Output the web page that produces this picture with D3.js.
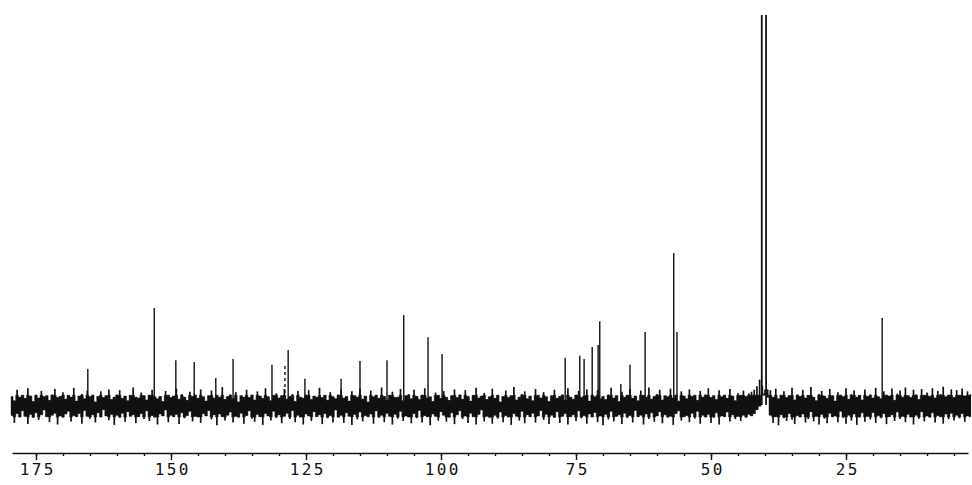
<!DOCTYPE html>
<html>
<head>
<meta charset="utf-8">
<script src="https://cdn.jsdelivr.net/npm/d3@7"></script>
<style>
  html, body { margin: 0; padding: 0; background: #fff; }
  svg { display: block; }
</style>
</head>
<body>
<script>
// chemical shifts (ppm) and heights of the resolved lines
const peakShifts = [165.4, 153.1, 149.1, 145.7, 141.7, 138.5, 131.3, 128.9, 128.3, 125.2,
    118.5, 115.0, 110.0, 106.9, 102.4, 99.8, 77.0, 74.3, 73.5, 72.0,
    70.9, 70.6, 66.7, 65.0, 62.2, 56.9, 56.3, 40.6, 39.8, 18.3];
const peakHeights = [9.2, 24.9, 11.5, 11.0, 6.9, 11.8, 10.3, 10.3, 14.1, 6.7,
    6.7, 11.3, 11.5, 23.1, 17.4, 13.1, 12.1, 12.6, 11.8, 14.9,
    15.4, 21.5, 5.4, 10.3, 18.7, 39.0, 18.7, 200, 200, 22.3];

// baseline noise: upper / lower envelope, one value every 0.5 ppm from 179.5 ppm
const noiseStart = 179.5;
const noiseStep = 0.5;
const noiseHigh = [
    2.2, 1.1, 3.9, 2.0, 2.5, 1.7, 4.3, 2.3, 0.9, 2.6,
    1.8, 3.6, 2.1, 2.4, 1.2, 2.7, 4.1, 1.9, 2.2, 3.3,
    1.5, 2.5, 2.0, 4.4, 1.0, 2.3, 2.8, 1.6, 3.7, 2.1,
    2.6, 0.8, 2.2, 3.5, 1.9, 2.4, 4.0, 1.4, 2.0, 2.7,
    3.8, 1.7, 2.3, 1.1, 2.5, 4.5, 2.0, 1.8, 3.2, 2.4,
    1.3, 2.6, 3.9, 2.1, 1.6, 2.2, 0.9, 3.6, 2.5, 1.9,
    2.3, 4.2, 1.5, 2.8, 2.0, 1.2, 3.4, 2.2, 2.6, 1.7,
    4.0, 2.1, 1.0, 2.4, 3.7, 1.8, 2.5, 2.0, 4.6, 1.4,
    2.2, 2.7, 1.6, 3.3, 0.8, 2.4, 2.0, 3.9, 1.9, 2.6,
    1.3, 3.5, 2.3, 1.7, 4.3, 2.1, 1.1, 2.5, 3.0, 1.8,
    2.4, 4.1, 1.5, 2.2, 2.8, 0.9, 3.6, 2.0, 1.7, 2.6,
    3.8, 1.4, 2.3, 2.0, 4.4, 1.9, 2.5, 1.2, 3.3, 2.1,
    1.6, 2.7, 4.0, 1.8, 2.2, 1.0, 3.5, 2.4, 2.0, 4.2,
    1.5, 2.3, 0.8, 3.7, 2.1, 2.6, 1.7, 4.5, 2.2, 1.3,
    2.5, 3.4, 1.9, 2.0, 4.1, 1.1, 2.4, 2.8, 1.6, 3.9,
    2.2, 1.4, 2.6, 4.3, 1.8, 2.1, 0.9, 3.2, 2.5, 1.7,
    3.6, 2.0, 1.2, 2.4, 4.0, 1.9, 2.7, 1.5, 3.8, 2.2,
    1.0, 2.5, 4.4, 1.8, 2.3, 3.1, 1.4, 2.1, 4.2, 1.7,
    2.6, 0.8, 2.2, 3.7, 1.9, 2.4, 4.6, 1.3, 2.0, 2.8,
    3.5, 1.6, 2.3, 1.1, 4.1, 2.5, 1.8, 3.3, 2.1, 0.9,
    2.4, 3.9, 1.7, 2.2, 2.7, 1.2, 4.3, 2.0, 1.5, 2.6,
    3.6, 1.9, 2.3, 4.0, 1.0, 2.5, 2.1, 3.8, 1.6, 2.2,
    1.4, 2.7, 4.4, 1.8, 2.4, 0.9, 3.4, 2.0, 2.6, 4.1,
    1.7, 2.3, 1.1, 3.7, 2.5, 2.0, 4.5, 1.5, 2.2, 2.8,
    3.9, 1.3, 2.4, 2.1, 4.2, 1.8, 2.6, 1.0, 3.5, 2.3,
    1.6, 4.0, 2.2, 2.5, 1.2, 3.6, 2.0, 2.7, 4.3, 1.9,
    2.4, 1.4, 3.8, 2.1, 2.6, 1.7, 4.1, 2.3, 1.1, 3.0,
    2.5, 3.7, 2.2, 3.0, 3.4, 3.9, 4.8, 6.5, 5.0, 4.0,
    4.0, 3.8, 2.0, 4.2, 1.6, 2.6, 3.5, 1.9, 2.4, 4.4,
    1.3, 2.7, 2.2, 3.9, 1.8, 2.5, 4.6, 2.0, 1.1, 2.8,
    3.6, 2.3, 1.7, 4.1, 2.4, 1.0, 3.3, 2.6, 2.1, 4.3,
    1.5, 2.8, 3.8, 2.0, 2.5, 1.3, 4.0, 2.2, 2.7, 1.8,
    4.4, 2.1, 1.6, 3.5, 2.6, 2.3, 4.2, 1.2, 2.9, 3.7,
    2.0, 4.5, 2.4, 1.9, 3.9, 2.7, 1.4, 4.1, 2.5, 3.2,
    2.2, 4.3, 1.8, 3.6, 2.8, 4.7, 2.1, 2.6, 4.0, 1.9,
    3.8, 2.5, 4.2, 2.3, 3.5, 2.7
];
const noiseLow = [
    -2.7, -4.6, -2.2, -3.1, -1.5, -2.9, -4.9, -2.4, -3.3, -2.0,
    -3.8, -2.5, -1.3, -3.0, -4.4, -2.6, -2.1, -5.0, -2.8, -3.2,
    -2.3, -1.6, -4.2, -2.7, -3.0, -2.2, -4.8, -1.4, -2.9, -3.5,
    -2.5, -4.5, -2.0, -3.1, -1.2, -2.8, -3.9, -2.4, -5.1, -2.6,
    -3.3, -2.1, -4.3, -1.7, -2.9, -2.5, -4.7, -3.0, -2.2, -3.6,
    -1.5, -4.1, -2.7, -3.2, -5.0, -2.3, -2.8, -1.3, -4.4, -2.6,
    -3.0, -2.4, -4.9, -2.0, -3.4, -2.7, -1.6, -4.2, -2.9, -3.1,
    -4.6, -2.2, -2.8, -1.4, -3.7, -2.5, -5.2, -2.3, -3.0, -4.0,
    -2.6, -1.8, -4.5, -2.9, -3.2, -2.1, -4.8, -2.7, -1.5, -3.5,
    -4.3, -2.4, -3.0, -5.1, -2.2, -2.8, -4.0, -1.6, -3.3, -2.5,
    -4.7, -2.9, -2.1, -3.6, -1.4, -4.4, -2.6, -3.1, -5.0, -2.3,
    -2.8, -4.1, -1.7, -3.0, -2.5, -4.9, -2.2, -3.4, -2.7, -4.5,
    -1.3, -3.2, -2.6, -4.6, -2.0, -2.9, -5.1, -2.4, -3.7, -1.8,
    -4.2, -2.7, -3.0, -2.3, -4.8, -1.5, -3.3, -2.6, -4.4, -2.1,
    -2.9, -5.0, -2.4, -3.5, -1.6, -4.1, -2.8, -3.1, -4.7, -2.2,
    -3.4, -1.4, -4.5, -2.7, -3.0, -5.2, -2.3, -2.9, -4.0, -1.7,
    -2.6, -4.3, -3.2, -2.0, -4.9, -2.5, -1.5, -3.6, -2.8, -4.6,
    -2.1, -3.0, -5.0, -2.4, -1.3, -4.2, -2.9, -3.3, -4.8, -2.6,
    -3.5, -1.8, -4.4, -2.7, -3.1, -5.1, -2.2, -2.9, -4.0, -1.6,
    -4.7, -2.5, -3.0, -2.1, -4.5, -2.8, -1.4, -3.8, -2.4, -4.9,
    -2.6, -3.3, -1.7, -4.6, -2.9, -2.2, -5.0, -3.0, -2.5, -4.1,
    -1.5, -3.4, -2.7, -4.8, -2.3, -3.1, -1.9, -4.4, -2.8, -5.2,
    -2.4, -3.7, -1.6, -4.2, -2.9, -2.5, -4.9, -2.1, -3.3, -2.7,
    -4.5, -1.4, -3.0, -2.6, -5.0, -2.3, -3.6, -2.0, -4.3, -2.8,
    -1.7, -4.7, -2.5, -3.2, -2.9, -5.1, -2.2, -1.5, -4.0, -3.0,
    -2.7, -4.4, -2.1, -3.5, -1.6, -4.8, -2.6, -3.1, -2.4, -4.6,
    -3.3, -2.0, -5.0, -2.8, -3.0, -1.8, -4.2, -2.5, -3.6, -2.9,
    -4.1, -2.6, -3.3, -2.4, -2.8, -2.2, -1.2, -0.3, 2.5, 3.0,
    2.0, -2.6, -4.6, -3.0, -5.2, -2.5, -3.4, -4.1, -2.2, -3.8,
    -4.9, -2.7, -3.1, -2.3, -4.5, -3.6, -1.7, -4.2, -2.9, -5.0,
    -2.4, -3.5, -4.7, -2.1, -3.0, -2.8, -4.4, -1.6, -3.3, -4.8,
    -2.6, -4.0, -2.3, -5.1, -3.2, -2.0, -4.3, -2.9, -3.7, -1.9,
    -4.6, -2.7, -3.4, -2.2, -4.9, -3.0, -2.5, -4.1, -1.8, -3.6,
    -2.9, -4.4, -2.4, -3.1, -5.0, -2.6, -3.5, -1.7, -4.2, -2.8,
    -3.2, -2.0, -4.5, -2.7, -3.0, -4.8, -2.3, -3.6, -2.1, -4.0,
    -2.6, -3.4, -2.2, -4.3, -2.8, -3.0
];

// axis ticks
const majorTicks = [175, 150, 125, 100, 75, 50, 25];
const minorTicks = d3.range(175, 0, -5);

const width = 972;
const height = 485;
const ink = '#111';

const svg = d3.select('body').append('svg')
    .attr('width', width)
    .attr('height', height);

// x: ppm decreases to the right
const x = d3.scaleLinear().domain([179.44, 2.41]).range([12, 968]);
const y = d3.scaleLinear().domain([0, 100]).range([405, 15]);

svg.append('clipPath').attr('id', 'plot-clip')
    .append('rect')
    .attr('x', 0).attr('y', y(100))
    .attr('width', width).attr('height', height);

const plot = svg.append('g').attr('clip-path', 'url(#plot-clip)');

const noise = d3.range(Math.min(noiseHigh.length, noiseLow.length)).map((i) => ({
    ppm: noiseStart - i * noiseStep,
    hi: noiseHigh[i],
    lo: noiseLow[i],
}));

// solid core of the noise band
plot.append('path')
    .datum(noise)
    .attr('fill', ink)
    .attr('stroke', ink)
    .attr('stroke-width', 0.5)
    .attr('d', d3.area()
        .curve(d3.curveStep)
        .x((d) => x(d.ppm))
        .y0((d) => y(Math.max(d.lo, -3.1)))
        .y1((d) => y(Math.min(d.hi, 2.5))));

// thin spikes reaching the full envelope
plot.append('g')
    .selectAll('line')
    .data(noise)
    .join('line')
    .attr('x1', (d) => x(d.ppm))
    .attr('x2', (d) => x(d.ppm))
    .attr('y1', (d) => y(d.lo))
    .attr('y2', (d) => y(d.hi))
    .attr('stroke', ink)
    .attr('stroke-width', 1.7);

// peaks
const peaks = peakShifts.map((p, i) => ({ ppm: p, h: peakHeights[i] }));
plot.append('g')
    .selectAll('line')
    .data(peaks)
    .join('line')
    .attr('x1', (d) => x(d.ppm))
    .attr('x2', (d) => x(d.ppm))
    .attr('y1', y(0))
    .attr('y2', (d) => y(d.h))
    .attr('stroke', ink)
    .attr('stroke-width', (d) => (d.h > 100 ? 1.8 : 1.4))
    .attr('stroke-dasharray', (d) => (d.ppm === 128.9 ? '3,3' : null));

// axis
const axisY = 453;
const minorAxis = d3.axisBottom(x)
    .tickValues(minorTicks)
    .tickSize(3)
    .tickSizeOuter(0)
    .tickFormat('');
const majorAxis = d3.axisBottom(x)
    .tickValues(majorTicks)
    .tickSize(7)
    .tickSizeOuter(0)
    .tickFormat(d3.format('d'));

svg.append('g')
    .attr('transform', `translate(0,${axisY})`)
    .call(minorAxis)
    .call((g) => g.selectAll('path, line').attr('stroke', ink).attr('stroke-width', 1.4));

svg.append('g')
    .attr('transform', `translate(0,${axisY})`)
    .call(majorAxis)
    .call((g) => g.select('.domain').remove())
    .call((g) => g.selectAll('line').attr('stroke', ink).attr('stroke-width', 1.4))
    .call((g) => g.selectAll('text')
        .attr('y', 22)
        .attr('dy', 0)
        .attr('dx', 1.2)
        .attr('fill', ink)
        .style('font-family', '"DejaVu Sans Mono", monospace')
        .style('font-size', '16px')
        .style('letter-spacing', '2.4px'));
</script>
</body>
</html>
